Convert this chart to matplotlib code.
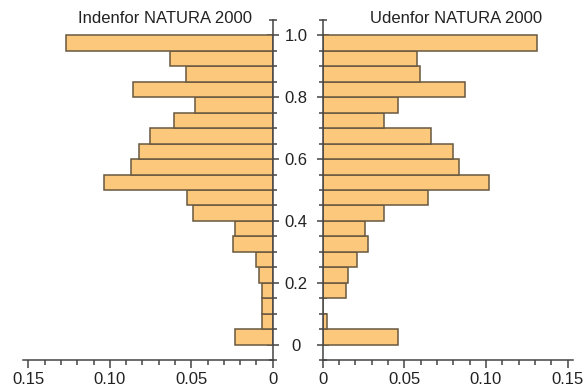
#!/usr/bin/env python3
"""
Back-to-back histograms of index values inside / outside NATURA 2000
"""
import numpy as np
import matplotlib
matplotlib.use("Agg")
import matplotlib.pyplot as plt
from matplotlib.ticker import MultipleLocator, FixedLocator

# bin lower edges (width 0.05) and relative frequencies
bin_edges = [0.00, 0.05, 0.10, 0.15, 0.20, 0.25, 0.30, 0.35, 0.40, 0.45,
             0.50, 0.55, 0.60, 0.65, 0.70, 0.75, 0.80, 0.85, 0.90, 0.95]
inside = [0.0231, 0.0066, 0.0066, 0.0068, 0.0086, 0.0103, 0.0246, 0.0231, 0.0491, 0.0528,
          0.1036, 0.0870, 0.0819, 0.0753, 0.0606, 0.0477, 0.0856, 0.0534, 0.0630, 0.1270]
outside = [0.0464, 0.0025, 0.0, 0.0141, 0.0157, 0.0209, 0.0276, 0.0260, 0.0378, 0.0648,
           0.1020, 0.0832, 0.0800, 0.0664, 0.0376, 0.0460, 0.0869, 0.0597, 0.0575, 0.1310]
titles = ["Indenfor NATURA 2000", "Udenfor NATURA 2000"]
y_ticks = [0, 0.2, 0.4, 0.6, 0.8, 1.0]
y_labels = ["0", "0.2", "0.4", "0.6", "0.8", "1.0"]
x_ticks = [0, 0.05, 0.10, 0.15]
x_labels = ["0", "0.05", "0.10", "0.15"]

bin_width = 0.05
bar_color = "#fcc97c"
edge_color = "#685840"
axis_color = "#444444"
text_color = "#222222"

plt.rcParams["font.family"] = ["Liberation Sans", "DejaVu Sans"]
plt.rcParams["font.size"] = 12
plt.rcParams["text.color"] = text_color
plt.rcParams["xtick.labelcolor"] = text_color
plt.rcParams["ytick.labelcolor"] = text_color

fig = plt.figure(figsize=(5.86, 3.92), dpi=100)
ax_l = fig.add_axes([22.7 / 586, 32 / 392, 250 / 586, 340 / 392])
ax_r = fig.add_axes([322.7 / 586, 32 / 392, 250.6 / 586, 340 / 392])

centers = np.array(bin_edges) + bin_width / 2
for ax, vals in ((ax_l, inside), (ax_r, outside)):
    ax.barh(centers, vals, height=bin_width, color=bar_color,
            edgecolor=edge_color, linewidth=1.1, zorder=2)
    ax.set_ylim(-0.05, 1.05)
    ax.set_xlim(0, 0.1535)
    ax.spines["top"].set_visible(False)
    for s in ax.spines.values():
        s.set_color(axis_color)
        s.set_linewidth(1.1)
    ax.xaxis.set_major_locator(FixedLocator(x_ticks))
    ax.set_xticklabels(x_labels)
    ax.xaxis.set_minor_locator(MultipleLocator(0.01))
    ax.yaxis.set_major_locator(FixedLocator(y_ticks))
    ax.yaxis.set_minor_locator(MultipleLocator(0.05))
    ax.tick_params(axis="x", which="major", direction="out", length=5.5,
                   width=1.1, color=axis_color, pad=3)
    ax.tick_params(axis="x", which="minor", direction="out", length=3.5,
                   width=1.1, color=axis_color)
    ax.tick_params(axis="y", which="major", direction="inout", length=8,
                   width=1.1, color=axis_color)
    ax.tick_params(axis="y", which="minor", direction="inout", length=6,
                   width=1.1, color=axis_color)

# left panel grows leftwards, axis on its right side
ax_l.invert_xaxis()
ax_l.spines["left"].set_visible(False)
ax_l.yaxis.tick_right()
ax_l.tick_params(axis="y", which="both", labelright=False)

# right panel carries the shared y labels, centred in the gap
ax_r.spines["right"].set_visible(False)
ax_r.yaxis.tick_left()
ax_r.set_yticklabels(y_labels)
ax_r.tick_params(axis="y", which="major", pad=15)
for lbl in ax_r.get_yticklabels():
    lbl.set_horizontalalignment("center")

ax_l.text(0.569, 1.003, titles[0], transform=ax_l.transAxes,
          ha="center", va="center", fontsize=12)
ax_r.text(0.532, 1.003, titles[1], transform=ax_r.transAxes,
          ha="center", va="center", fontsize=12)

fig.savefig("out.png", dpi=100)
